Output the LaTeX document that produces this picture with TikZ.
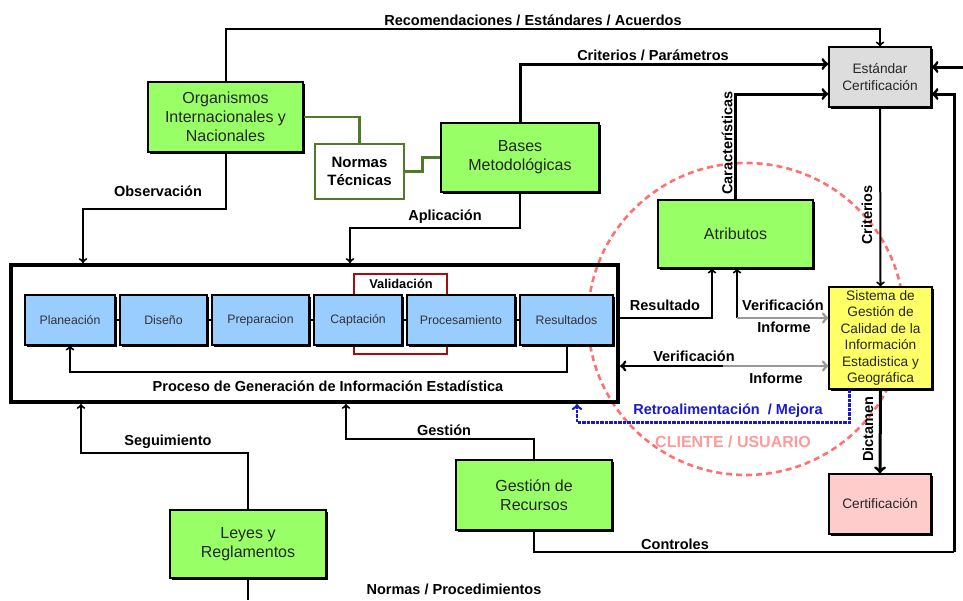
\documentclass[tikz,border=0pt]{standalone}
\usepackage{fontspec}
\setmainfont{Liberation Sans}
\usetikzlibrary{shapes.geometric, arrows, shadows, positioning}
\definecolor{grn}{HTML}{99FF66}
\definecolor{stepblue}{HTML}{99CCFF}
\definecolor{sgyellow}{HTML}{FFFF66}
\definecolor{certpink}{HTML}{FFCCCC}
\definecolor{stdgray}{HTML}{DDDDDD}
\definecolor{normgreen}{HTML}{4F7A28}
\definecolor{validred}{HTML}{A01010}
\definecolor{clientred}{HTML}{FF7070}
\definecolor{clienttext}{HTML}{FF9A9A}
\definecolor{retroblue}{HTML}{1A1ACC}
\tikzset{
    boxshadow/.style = {
        drop shadow={shadow xshift=2.2pt, shadow yshift=-2.2pt, fill=black, opacity=1}
    },
    greenbox/.style = {
        rectangle, draw, fill=grn, line width=1.2pt,
        align=center, text=black!85,
        font=\fontsize{16}{19}\selectfont,
        boxshadow
    },
    normbox/.style = {
        rectangle, draw=normgreen, fill=white, line width=2.6pt,
        minimum width=89pt, minimum height=55pt,
        align=center, font=\bfseries\fontsize{15}{18}\selectfont
    },
    stepbox/.style = {
        rectangle, draw, fill=stepblue, line width=1.2pt,
        minimum height=50pt, text=black!80,
        font=\fontsize{12.3}{14}\selectfont,
        boxshadow
    },
    infobox/.style = {
        rectangle, draw, line width=1.2pt,
        minimum width=102pt, align=center, text=black!85,
        font=\fontsize{13.7}{16.5}\selectfont,
        boxshadow
    },
    frame/.style = {
        rectangle, draw, line width=4pt,
        minimum width=607pt, minimum height=137pt
    },
    valbox/.style = {
        rectangle, draw=validred, line width=1.5pt,
        minimum width=93pt, minimum height=80pt
    },
    clientring/.style = {
        ellipse, draw=clientred, line width=2.6pt,
        dash pattern=on 6pt off 4pt,
        minimum width=316pt, minimum height=312pt
    },
    lbl/.style = {
        font=\bfseries\fontsize{14.5}{16}\selectfont, inner sep=0pt
    },
    arrow/.style = {
        ->, line width=2pt
    },
    thickarrow/.style = {
        ->, line width=3pt
    },
    link/.style = {
        line width=2pt
    },
    normlink/.style = {
        draw=normgreen, line width=2.8pt
    },
    grayarrow/.style = {
        ->, draw=gray!80, line width=2.8pt
    },
    retro/.style = {
        ->, draw=retroblue, line width=2.6pt, dash pattern=on 3.5pt off 1pt
    }
}
\begin{document}
\begin{tikzpicture}[x=1pt, y=-1pt, node distance=3.8pt, >=to]
\useasboundingbox (0,0) rectangle (963,600);

% cliente / usuario (behind everything)
\node (cliente) [clientring] at (746,319) {};
\node (clienteLbl) [lbl, text=clienttext, font=\bfseries\fontsize{16}{18}\selectfont] at (733,442) {CLIENTE / USUARIO};

% proceso de generacion
\node (proceso) [frame] at (314.5,333.5) {};
\node (validacion) [valbox] at (400.5,314) {};
\node (valLbl) [lbl, font=\bfseries\fontsize{12.8}{14}\selectfont] at (401,284) {Validación};
\node (procLbl) [lbl] at (328,386) {Proceso de Generación de Información Estadística};

\node (plan) [stepbox, minimum width=90pt] at (70,320) {Planeación};
\node (dis) [stepbox, minimum width=87pt, right=of plan] {Diseño};
\node (prep) [stepbox, minimum width=97pt, right=of dis] {Preparacion};
\node (capt) [stepbox, minimum width=88pt, right=of prep] {Captación};
\node (proc) [stepbox, minimum width=108pt, right=of capt] {Procesamiento};
\node (res) [stepbox, minimum width=93pt, right=of proc] {Resultados};

% label cut by the sistema box
\node (verLblA) [lbl, anchor=west] at (742,305) {Verificación};

% boxes
\node (orgs) [greenbox, minimum width=155pt, minimum height=70pt] at (225.5,117) {Organismos\\Internacionales y\\Nacionales};
\node (normas) [normbox] at (359.5,171.5) {Normas\\Técnicas};
\node (bases) [greenbox, minimum width=158pt, minimum height=69pt] at (520,157.5) {Bases\\Metodológicas};
\node (atrib) [greenbox, minimum width=155pt, minimum height=68pt] at (735.5,234) {Atributos};
\node (estandar) [infobox, fill=stdgray, minimum height=60pt] at (880,77) {Estándar\\Certificación};
\node (sistema) [infobox, fill=sgyellow, minimum width=103pt, minimum height=102pt] at (880.5,338) {Sistema de\\Gestión de\\Calidad de la\\Información\\Estadistica y\\Geográfica};
\node (certif) [infobox, fill=certpink, minimum height=60pt] at (880,504) {Certificación};
\node (recursos) [greenbox, minimum width=156pt, minimum height=70pt] at (534,495) {Gestión de\\Recursos};
\node (leyes) [greenbox, minimum width=156pt, minimum height=68pt] at (248,544) {Leyes y\\Reglamentos};

% free ends
\coordinate (ctrlCorner) at (954,552);
\coordinate (leyesOut) at (248,600);
\coordinate (normasIn) at (963,67);
\coordinate (verCorner) at (737,318);
\coordinate (verMid) at (723,366);

% labels
\node (recLbl) [lbl] at (533,20) {Recomendaciones / Estándares / Acuerdos};
\node (critParLbl) [lbl] at (653,55) {Criterios / Parámetros};
\node (obsLbl) [lbl] at (158,191) {Observación};
\node (aplLbl) [lbl] at (445,217) {Aplicación};
\node (carLbl) [lbl, rotate=90] at (727,143) {Características};
\node (critLbl) [lbl, rotate=90] at (867,215) {Criterios};
\node (resLbl) [lbl] at (665,305) {Resultado};
\node (infLblA) [lbl] at (784,327) {Informe};
\node (verLblB) [lbl] at (694,356) {Verificación};
\node (infLblB) [lbl] at (776,378) {Informe};
\node (retroLbl) [lbl, text=retroblue] at (728,411) {Retroalimentación~ / Mejora};
\node (dicLbl) [lbl, rotate=90] at (868,429) {Dictamen};
\node (ctrlLbl) [lbl] at (675,544) {Controles};
\node (gesLbl) [lbl] at (444,430) {Gestión};
\node (segLbl) [lbl] at (168,442) {Seguimiento};
\node (npLbl) [lbl] at (454,589) {Normas / Procedimientos};

% steps
\foreach \a/\b in {plan/dis, dis/prep, prep/capt, capt/proc, proc/res}
    \draw [link, line width=1.2pt] (\a.east) -- (\b.west);
\draw [arrow] (res.south) -- ++(0,26) -| (plan.south);

% connectors
\draw [arrow] (orgs.north) -- ++(0,-52) -| (estandar.north);
\draw [arrow] (orgs.south) -- ++(0,56) -| ([xshift=74pt]proceso.north west);
\draw [normlink] (orgs.east) -| (normas.north);
\draw [normlink] (normas.east) -- ++(17,0) |- (bases.west);
\draw [thickarrow] (bases.north) |- ([yshift=13pt]estandar.west);
\draw [arrow] (bases.south) -- ++(0,35) -| ([xshift=341pt]proceso.north west);
\draw [thickarrow] (atrib.north) |- ([yshift=-17pt]estandar.west);
\draw [arrow] (estandar.south) -- (sistema.north);
\draw [thickarrow] (sistema.south) -- (certif.north);
\draw [link, line width=2.4pt] (recursos.south) |- (ctrlCorner);
\draw [thickarrow] (ctrlCorner) |- ([yshift=-17pt]estandar.east);
\draw [link] (leyes.south) -- (leyesOut);
\draw [thickarrow] (normasIn) -- ([yshift=10pt]estandar.east);
\draw [arrow] (recursos.north) -- ++(0,-20) -| ([xshift=337pt]proceso.south west);
\draw [arrow] (leyes.north) -- ++(0,-56) -| ([xshift=72pt]proceso.south west);
\draw [arrow] ([yshift=15.5pt]proceso.east) -| ([xshift=-23.5pt]atrib.south);
\draw [arrow] (verCorner) -- (verCorner |- atrib.south);
\draw [grayarrow] (verCorner) -- (verCorner -| sistema.west);
\draw [thickarrow, <-, line width=2.8pt] ([yshift=-32.5pt]proceso.east) -- (verMid);
\draw [grayarrow] (verMid) -- (verMid -| sistema.west);
\draw [retro] ([xshift=-31pt]sistema.south) -- ++(0,33) -| ([xshift=568pt]proceso.south west);

\end{tikzpicture}
\end{document}
